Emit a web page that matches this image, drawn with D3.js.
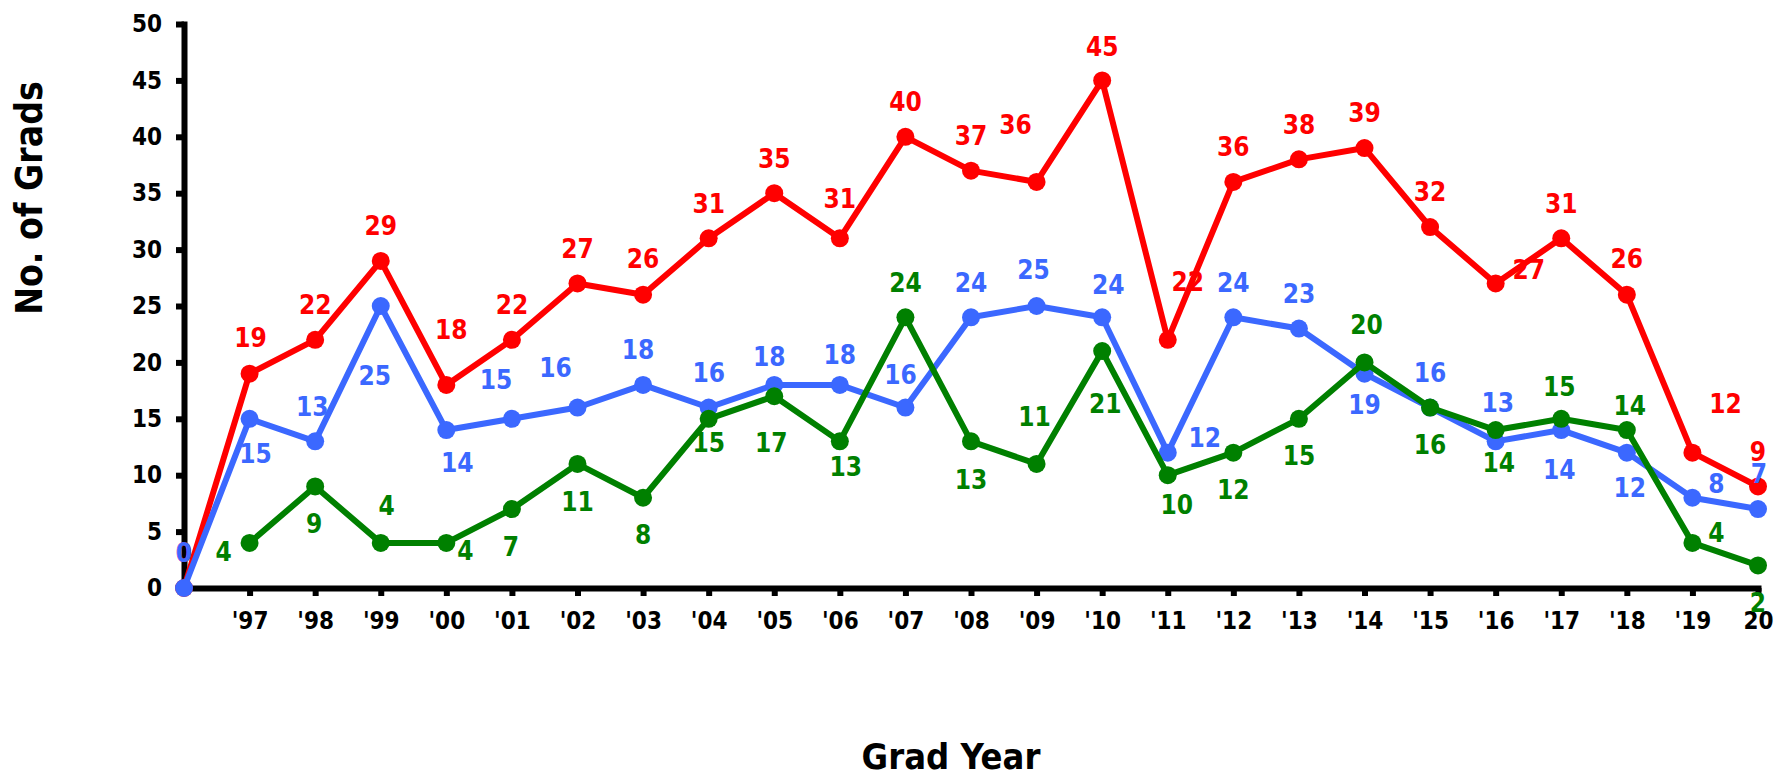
<!DOCTYPE html>
<html>
<head>
<meta charset="utf-8">
<script src="https://cdn.jsdelivr.net/npm/d3@7"></script>
<style>
  html, body { margin: 0; padding: 0; background: #fff; }
  svg text { font-family: "DejaVu Sans Condensed", "DejaVu Sans", sans-serif; font-stretch: condensed; font-weight: bold; }
</style>
</head>
<body>
<svg id="chart" width="1787" height="779"></svg>
<script>
// ---- data ----
const years = ["1996","1997","1998","1999","2000","2001","2002","2003","2004","2005","2006","2007","2008","2009","2010","2011","2012","2013","2014","2015","2016","2017","2018","2019","2020"];
const xTickLabels = ["","'97","'98","'99","'00","'01","'02","'03","'04","'05","'06","'07","'08","'09","'10","'11","'12","'13","'14","'15","'16","'17","'18","'19","20"];
const yTicks = [0,5,10,15,20,25,30,35,40,45,50];
const redValues   = [0,19,22,29,18,22,27,26,31,35,31,40,37,36,45,22,36,38,39,32,27,31,26,12,9];
const blueValues  = [0,15,13,25,14,15,16,18,16,18,18,16,24,25,24,12,24,23,19,16,13,14,12,8,7];
const greenValues = [null,4,9,4,4,7,11,8,15,17,13,24,13,11,21,10,12,15,20,16,14,15,14,4,2];

// label nudges (dx, dy from the point)
const redLabelOffset = [[0,-35],[1,-36],[0,-35],[0,-35],[5,-55],[0,-35],[0,-35],[0,-36],[0,-35],[0,-35],[0,-40],[0,-35],[0,-35],[-21,-57],[0,-34],[20,-58],[0,-35],[0,-35],[0,-35],[0,-35],[33,-14],[0,-35],[0,-36],[33,-49],[0,-35]];
const blueLabelOffset = [[0,-35],[6,35],[-3,-35],[-6,70],[11,33],[-16,-39],[-22,-40],[-5,-35],[0,-35],[-5,-28],[0,-30],[-5,-33],[0,-35],[-3,-36],[6,-33],[37,-15],[0,-35],[0,-35],[0,31],[0,-35],[2,-39],[-2,40],[3,35],[24,-14],[1,-35]];
const greenLabelOffset = [null,[-26,9],[-1,37],[6,-37],[19,8],[-1,38],[0,38],[0,37],[0,24],[-3,46],[6,25],[0,-35],[0,38],[-2,-47],[3,53],[9,29],[0,37],[0,37],[2,-38],[0,37],[3,33],[-2,-32],[3,-24],[24,-10],[0,37]];

const series = [
  {name:"red",   color:"#FF0000", values: redValues,   offsets: redLabelOffset},
  {name:"blue",  color:"#3B68FF", values: blueValues,  offsets: blueLabelOffset},
  {name:"green", color:"#008000", values: greenValues, offsets: greenLabelOffset}
];

// ---- layout ----
const svg = d3.select("#chart");
const x = d3.scalePoint().domain(years).range([184, 1758]).padding(0);
const y = d3.scaleLinear().domain([0, 50]).range([588, 24]);

// axes
const yAxis = d3.axisLeft(y).tickValues(yTicks).tickSize(8).tickSizeOuter(0).tickPadding(14);
const gy = svg.append("g").attr("transform", "translate(184,0)").call(yAxis);
gy.select(".domain").attr("stroke", "#000").attr("stroke-width", 6).attr("stroke-linecap", "square");
gy.selectAll(".tick line").attr("stroke", "#000").attr("stroke-width", 6);
gy.selectAll(".tick text").attr("fill", "#000").style("font-size", "24px");

const xAxis = d3.axisBottom(x).tickSize(8).tickSizeOuter(0).tickPadding(16)
  .tickFormat((d, i) => xTickLabels[i]);
const gx = svg.append("g").attr("transform", "translate(0,588)").call(xAxis);
gx.select(".domain").attr("stroke", "#000").attr("stroke-width", 6).attr("stroke-linecap", "square");
gx.selectAll(".tick line").attr("stroke", "#000").attr("stroke-width", 6);
gx.selectAll(".tick text").attr("fill", "#000").style("font-size", "24px");

// axis titles
svg.append("text")
  .attr("transform", "translate(42,198) rotate(-90)")
  .attr("text-anchor", "middle")
  .style("font-size", "37px")
  .attr("fill", "#000")
  .text("No. of Grads");

svg.append("text")
  .attr("x", 951).attr("y", 769)
  .attr("text-anchor", "middle")
  .style("font-size", "36px")
  .attr("fill", "#000")
  .text("Grad Year");

// lines and markers
const line = d3.line()
  .defined(d => d.v !== null)
  .x(d => x(d.year))
  .y(d => y(d.v));

series.forEach(s => {
  const pts = years.map((yr, i) => ({year: yr, v: s.values[i], off: s.offsets[i]}));
  const g = svg.append("g");
  g.append("path")
    .datum(pts)
    .attr("d", line)
    .attr("fill", "none")
    .attr("stroke", s.color)
    .attr("stroke-width", 6)
    .attr("stroke-linejoin", "round");
  g.selectAll("circle")
    .data(pts.filter(d => d.v !== null))
    .join("circle")
    .attr("cx", d => x(d.year))
    .attr("cy", d => y(d.v))
    .attr("r", 9)
    .attr("fill", s.color);
  s.pts = pts;
});

// data labels on top
series.forEach(s => {
  svg.append("g").selectAll("text")
    .data(s.pts.filter(d => d.v !== null))
    .join("text")
    .attr("x", d => x(d.year) + d.off[0])
    .attr("y", d => y(d.v) + d.off[1])
    .attr("dy", "0.36em")
    .attr("text-anchor", "middle")
    .style("font-size", "26px")
    .attr("fill", s.color)
    .text(d => d.v);
});
</script>
</body>
</html>
